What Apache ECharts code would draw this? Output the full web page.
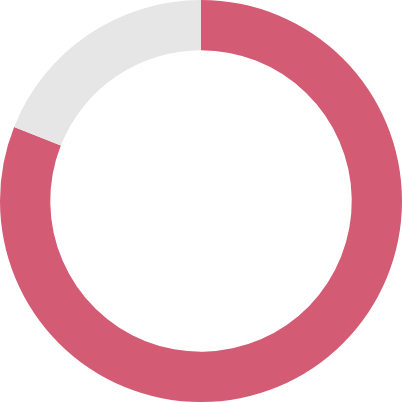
<!DOCTYPE html>
<html><head><meta charset="utf-8">
<script src="https://cdn.jsdelivr.net/npm/echarts@6/dist/echarts.min.js"></script>
<style>html,body{margin:0;padding:0;background:#fff}#c{width:402px;height:402px}</style>
</head><body><div id="c"></div>
<script>
var names = ['Value', 'Remainder'];
var values = [81, 19];
var colors = ['#D35B73', '#E6E6E6'];
var chart = echarts.init(document.getElementById('c'));
chart.setOption({
  animation: false,
  series: [{
    type: 'pie',
    center: ['50%', '50%'],
    radius: ['75%', '100%'],
    startAngle: 90,
    clockwise: true,
    label: { show: false },
    labelLine: { show: false },
    silent: true,
    itemStyle: { borderWidth: 0 },
    data: names.map(function (n, i) { return { name: n, value: values[i], itemStyle: { color: colors[i] } }; })
  }]
});
</script></body></html>
